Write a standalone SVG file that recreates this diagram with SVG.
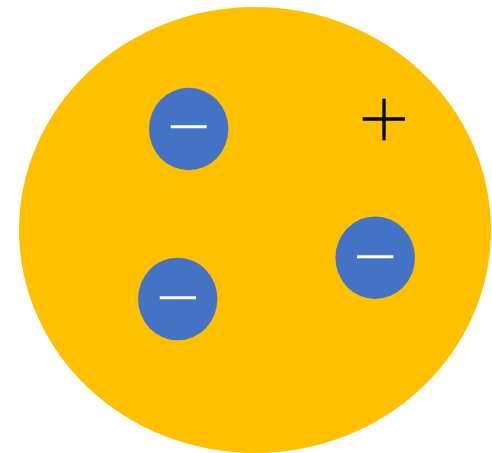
<svg xmlns="http://www.w3.org/2000/svg" width="492" height="453" viewBox="0 0 492 453">
<style>
.electron{fill:#4472C4}
.minus{stroke:#FFFFFF;stroke-width:3;fill:none}
.plus{stroke:#000000;stroke-width:3.3;fill:none}
</style>
<rect width="492" height="453" fill="#FFFFFF"/>
<g id="atom">
<ellipse cx="255" cy="230" rx="236" ry="223" fill="#FFC000"/>
</g>
<g id="electron1">
<ellipse class="electron" cx="188.7" cy="129" rx="39.7" ry="41.2"/>
<line class="minus" x1="170.7" y1="126.7" x2="206.7" y2="126.7"/>
</g>
<g id="electron2">
<ellipse class="electron" cx="177.7" cy="299" rx="39.7" ry="41.3"/>
<line class="minus" x1="159.7" y1="297.7" x2="196" y2="297.7"/>
</g>
<g id="electron3">
<ellipse class="electron" cx="375.2" cy="257.7" rx="39.8" ry="41.3"/>
<line class="minus" x1="357" y1="256.7" x2="393.3" y2="256.7"/>
</g>
<g id="positive">
<line class="plus" x1="362.7" y1="119" x2="405" y2="119"/>
<line class="plus" x1="384" y1="98.7" x2="384" y2="140.3"/>
</g>
<g id="connectors"></g>
</svg>
